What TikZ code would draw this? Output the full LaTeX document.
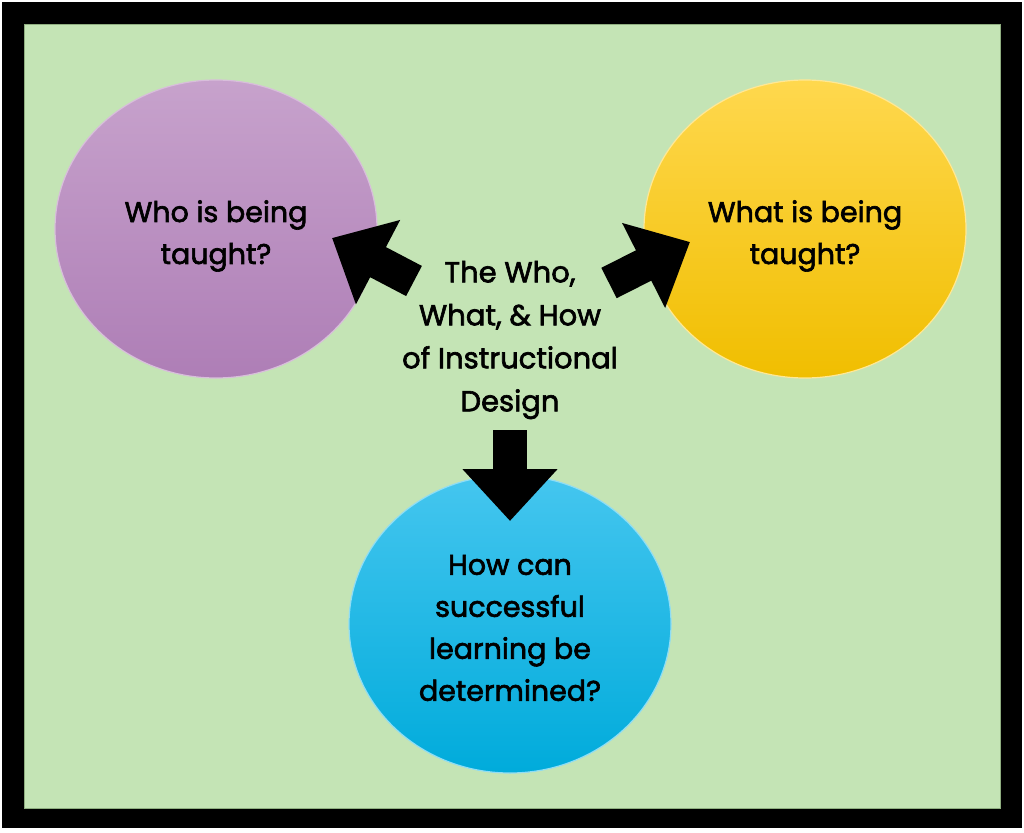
\documentclass[tikz,border=0pt]{standalone}
\usepackage{fontspec}
\setmainfont{Poppins}[RawFeature={embolden=2.2}]
\usetikzlibrary{shapes.geometric,arrows.meta}
\definecolor{bggreen}{HTML}{C4E4B5}
\definecolor{bgedge}{HTML}{8FAE80}
\definecolor{purpT}{HTML}{C7A2CC}
\definecolor{purpB}{HTML}{AE7EB6}
\definecolor{yelT}{HTML}{FFD84E}
\definecolor{yelB}{HTML}{F0BE00}
\definecolor{bluT}{HTML}{45C6EF}
\definecolor{bluB}{HTML}{00ABDB}
\tikzset{
  bubble/.style={ellipse, minimum width=322pt, minimum height=298pt, inner sep=0pt, align=center,
     font=\fontsize{28.5}{42}\selectfont, text=black},
  blockarrow/.style={line width=34pt, black, -{Triangle[length=52pt,width=92pt]}},
  coretext/.style={align=center, font=\fontsize{29}{43}\selectfont, text=black}
}
\begin{document}
\begin{tikzpicture}[x=1pt,y=-1pt]
\useasboundingbox (0,0) rectangle (1024,832);
\fill[white] (0,0) rectangle (1024,832);
\fill[black] (2,2) rectangle (1022,828);
\fill[bggreen, draw=bgedge, line width=1pt] (24,25) rectangle (1000,808);
\node[bubble, top color=purpT, bottom color=purpB, draw=purpT!70!white, line width=1.2pt] (who) at (216,229) {};
\node[bubble, top color=yelT, bottom color=yelB, draw=yelT!60!white, line width=1.2pt] (what) at (805,229) {};
\node[bubble, top color=bluT, bottom color=bluB, draw=bluT!60!white, line width=1.2pt] (how) at (510,624) {};
\node[bubble, minimum size=0pt, shape=rectangle] (whot) at (216,236) {Who is being\\taught?};
\node[bubble, minimum size=0pt, shape=rectangle] (whatt) at (805,236) {What is being\\taught?};
\node[bubble, minimum size=0pt, shape=rectangle] (howt) at (510,628) {How can\\successful\\learning be\\determined?};
\node[coretext] (core) at (510,340) {The Who,\\What, \& How\\of Instructional\\Design};
\coordinate (la) at (414,281);
\coordinate (lb) at (332,238);
\coordinate (ra) at (609,283);
\coordinate (rb) at (690,242);
\coordinate (da) at (510,430);
\coordinate (db) at (510,521);
\draw[blockarrow] (la) -- (lb);
\draw[blockarrow] (ra) -- (rb);
\draw[blockarrow] (da) -- (db);
\end{tikzpicture}
\end{document}
